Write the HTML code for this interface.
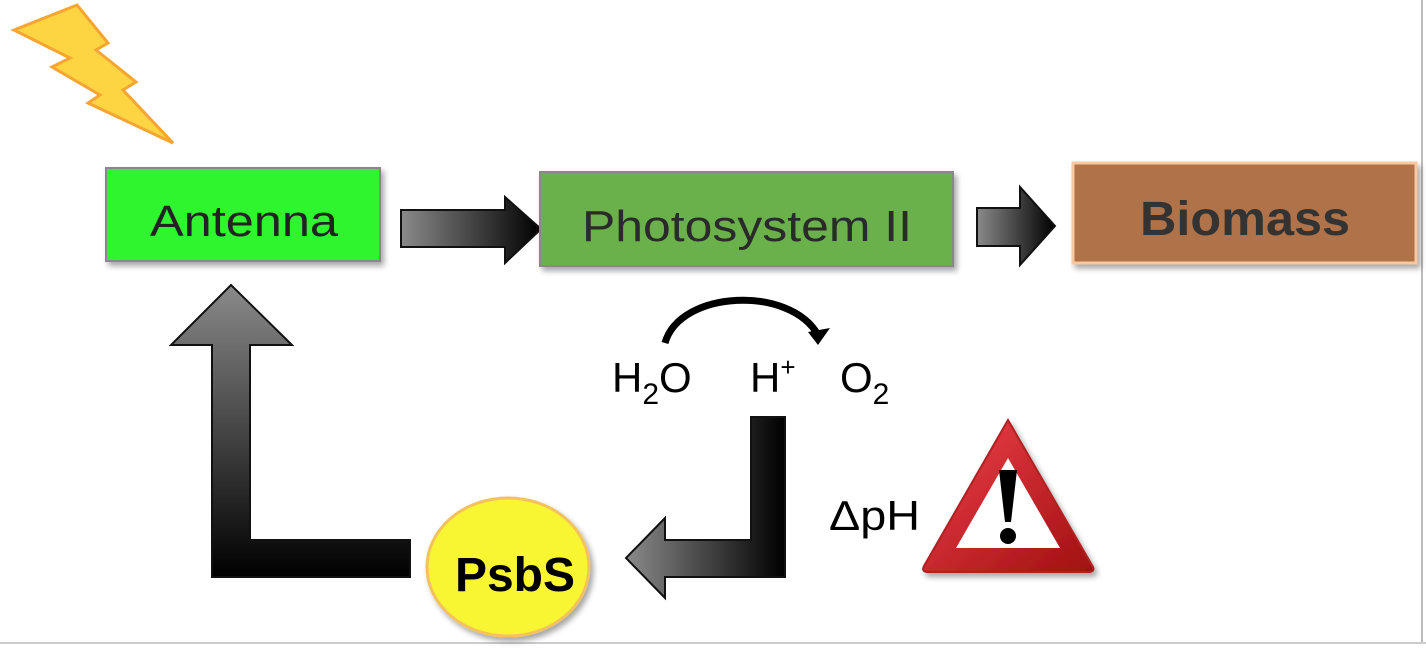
<!DOCTYPE html>
<html><head><meta charset="utf-8"><style>
html,body{margin:0;padding:0;background:#fff;}
body{width:1426px;height:648px;overflow:hidden;position:relative;font-family:"Liberation Sans","DejaVu Sans",sans-serif;}
</style></head><body>
<svg width="1426" height="648" viewBox="0 0 1426 648" xmlns="http://www.w3.org/2000/svg">
<defs>
<linearGradient id="gh" x1="0" y1="0" x2="1" y2="0"><stop offset="0" stop-color="#8a8a8a"/><stop offset="1" stop-color="#000"/></linearGradient>
<linearGradient id="gv" x1="0" y1="0" x2="0" y2="1"><stop offset="0" stop-color="#8a8a8a"/><stop offset="1" stop-color="#000"/></linearGradient>
<linearGradient id="gr" x1="0" y1="0" x2="1" y2="1"><stop offset="0" stop-color="#f0414c"/><stop offset="1" stop-color="#a01010"/></linearGradient>
<filter id="sh" x="-10%" y="-10%" width="130%" height="140%"><feDropShadow dx="3" dy="4" stdDeviation="3" flood-color="#000" flood-opacity="0.35"/></filter>
</defs>
<line x1="1422" y1="0" x2="1422" y2="642" stroke="#bbb" stroke-width="2"/>
<line x1="0" y1="643" x2="1426" y2="643" stroke="#ccc" stroke-width="2"/>
<polygon points="14,30 77,5 108,43 96,50 136,82 123,90 173,143 88,103 100,95 52,67 70,58" fill="#fdd442" stroke="#f6a531" stroke-width="3" stroke-linejoin="miter"/>
<rect x="106" y="168" width="274" height="93" fill="#2ef52e" stroke="#888" stroke-width="2" filter="url(#sh)"/>
<text x="150" y="236" font-size="44" textLength="188" lengthAdjust="spacingAndGlyphs" fill="#222">Antenna</text>
<polygon points="401,210 505,210 505,197 541,229 505,263 505,247 401,247" fill="url(#gh)" stroke="#111" stroke-width="2"/>
<rect x="540" y="172" width="413" height="94" fill="#6ab04c" stroke="#888" stroke-width="2" filter="url(#sh)"/>
<text x="582" y="241" font-size="44" textLength="330" lengthAdjust="spacingAndGlyphs" fill="#2a2a2a">Photosystem II</text>
<polygon points="977,208 1020,208 1020,187 1055,226 1020,265 1020,246 977,246" fill="url(#gh)" stroke="#111" stroke-width="2"/>
<rect x="1073" y="163" width="343" height="100" fill="#b07348" stroke="#f8c9a0" stroke-width="3" filter="url(#sh)"/>
<text x="1140" y="235" font-size="48" font-weight="bold" textLength="210" lengthAdjust="spacingAndGlyphs" fill="#333">Biomass</text>
<polygon points="231,285 292,345 250,345 250,540 410,540 410,577 212,577 212,345 171,345" fill="url(#gv)" stroke="#111" stroke-width="2"/>
<ellipse cx="508" cy="567" rx="81" ry="69" fill="#f8f532" stroke="#f3c25b" stroke-width="3" filter="url(#sh)"/>
<text x="515" y="591" font-size="48" font-weight="bold" text-anchor="middle" fill="#000">PsbS</text>
<polygon points="785,417 751,417 751,540 665,540 665,518 626,558 665,598 665,577 785,577" fill="url(#gh)" stroke="#111" stroke-width="2"/>
<path d="M665,343 C680,290 790,285 818,335" fill="none" stroke="#000" stroke-width="7"/>
<polygon points="808,332 830,328 818,345" fill="#000"/>
<text x="612" y="392" font-size="42" fill="#000">H<tspan font-size="30" dy="12">2</tspan><tspan dy="-12">O</tspan></text>
<text x="750" y="392" font-size="42" fill="#000">H<tspan font-size="26" dy="-16">+</tspan></text>
<text x="840" y="392" font-size="42" fill="#000">O<tspan font-size="30" dy="12">2</tspan></text>
<text x="829" y="530" font-size="42" textLength="91" lengthAdjust="spacingAndGlyphs" fill="#000">ΔpH</text>
<path d="M1008,420 L1093,567 Q1095,572 1088,572 L928,572 Q921,572 924,566 Z" fill="url(#gr)" stroke="#b02020" stroke-width="2" filter="url(#sh)"/>
<polygon points="1008,458 1060,548 956,548" fill="#fff"/>
<path d="M999,470 L1017,470 L1011,522 L1005,522 Z" fill="#000"/>
<circle cx="1008" cy="536" r="8" fill="#000"/>
</svg>
</body></html>
